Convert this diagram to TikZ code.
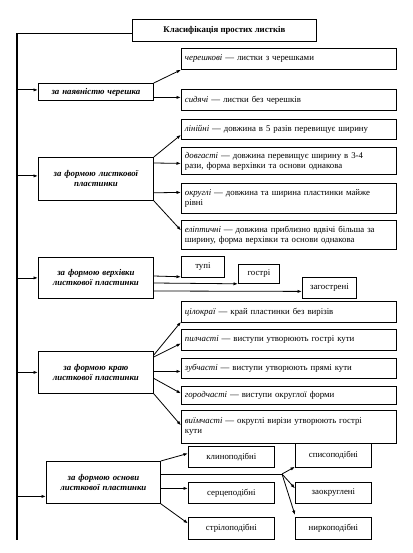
\documentclass[tikz,border=0pt]{standalone}
\usepackage{fontspec}
\setmainfont{Liberation Serif}
\usetikzlibrary{calc,arrows.meta}
\newcommand{\fs}{\fontsize{8.8pt}{10pt}\selectfont}
\tikzset{
  box/.style={draw, line width=0.8pt, anchor=north west, inner xsep=3pt, inner ysep=2pt, font=\fs},
  catbox/.style={box, align=center, font=\fs\bfseries\itshape, minimum width=115pt, text width=107pt, inner xsep=4pt},
  leaf/.style={box, align=left, text width=208pt, inner xsep=3.5pt, anchor=north west},
  small/.style={box, align=center},
  arr/.style={-{Latex[length=4.5pt,width=3.2pt]}, line width=0.8pt},
  mainline/.style={line width=1.4pt}
}
\begin{document}
\begin{tikzpicture}[x=1pt,y=-1pt]
\useasboundingbox (0,0) rectangle (412,553);
% title
\node[box, minimum width=184pt, minimum height=22pt, font=\fs\bfseries] (title) at (132,19) {Класифікація простих листків};
% categories
\node[catbox, minimum height=17pt] (c1) at (38,83) {за наявністю черешка};
\node[catbox, minimum height=43pt] (c2) at (38,157) {за формою листкової\\пластинки};
\node[catbox, minimum height=41pt] (c3) at (38,257) {за формою верхівки\\листкової пластинки};
\node[catbox, minimum height=42pt] (c4) at (38,351) {за формою краю\\листкової пластинки};
\node[catbox, minimum height=42pt, minimum width=114pt, text width=106pt] (c5) at (46,461) {за формою основи\\листкової пластинки};
% leaves group 1
\node[leaf, minimum height=21pt] (cher) at (181,48) {\textit{черешкові} — листки з черешками};
\node[leaf, minimum height=21pt] (syd) at (181,89) {\textit{сидячі} — листки без черешків};
% group 2
\node[leaf, minimum height=20pt] (lin) at (181,119) {\textit{лінійні} — довжина в 5 разів перевищує ширину};
\node[leaf, minimum height=27pt] (dovh) at (181,147) {\textit{довгасті} — довжина перевищує ширину в 3-4\\рази, форма верхівки та основи однакова};
\node[leaf, minimum height=30pt] (okr) at (181,183) {\textit{округлі} — довжина та ширина пластинки майже\\рівні};
\node[leaf, minimum height=29pt] (elip) at (181,220) {\textit{еліптичні} — довжина приблизно вдвічі більша за\\ширину, форма верхівки та основи однакова};
% group 3
\node[small, minimum width=43pt, minimum height=21pt] (tupi) at (181,256) {тупі};
\node[small, minimum width=41pt, minimum height=19pt] (gostri) at (238,264) {гострі};
\node[small, minimum width=54pt, minimum height=21pt] (zag) at (302,277) {загострені};
% group 4
\node[leaf, minimum height=21pt] (cil) at (181,301) {\textit{цілокраї} — край пластинки без вирізів};
\node[leaf, minimum height=21pt] (pyl) at (181,329) {\textit{пилчасті} — виступи утворюють гострі кути};
\node[leaf, minimum height=20pt] (zub) at (181,358) {\textit{зубчасті} — виступи утворюють прямі кути};
\node[leaf, minimum height=18pt] (hor) at (181,386) {\textit{городчасті} — виступи округлої форми};
\node[leaf, minimum height=33pt] (vyi) at (181,410) {\textit{виїмчасті} — округлі вирізи утворюють гострі\\кути};
% group 5
\node[small, minimum width=86pt, minimum height=21pt] (klyn) at (188,446) {клиноподібні};
\node[small, minimum width=86pt, minimum height=21pt] (serc) at (188,482) {серцеподібні};
\node[small, minimum width=86pt, minimum height=22pt] (stril) at (188,517) {стрілоподібні};
\node[small, minimum width=76pt, minimum height=24pt] (spys) at (295,443) {списоподібні};
\node[small, minimum width=76pt, minimum height=21pt] (zaok) at (295,482) {заокруглені};
\node[small, minimum width=76pt, minimum height=22pt] (nyrk) at (295,517) {ниркоподібні};
% main line
\coordinate (bot) at (17,540);
\coordinate (hub) at (282,474);
\draw[mainline] ($(title.west)+(0,3)$) -| (bot);
\coordinate (b1) at ($(c1.west)+(0,-2)$);
\coordinate (b2) at ($(c2.west)+(0,-3)$);
\coordinate (b5) at ($(c5.west)+(0,14)$);
\draw[arr] (b1 -| bot) -- (b1);
\draw[arr] (b2 -| bot) -- (b2);
\draw[arr] (c3.west -| bot) -- (c3.west);
\draw[arr] (c4.west -| bot) -- (c4.west);
\draw[arr] (b5 -| bot) -- (b5);
% group 1 arrows
\draw[arr] (c1.north east) -- (cher.south west);
\draw[arr] ($(c1.east)+(0,5.5)$) -- ($(syd.west)+(0,-2.5)$);
% group 2 arrows
\draw[arr] (c2.north east) -- ($(lin.south west)+(0,-5)$);
\draw[arr] ($(c2.north east)+(0,6)$) -- ($(dovh.west)+(0,2.5)$);
\draw[arr] ($(c2.south east)+(0,-8)$) -- ($(okr.west)+(0,-6)$);
\draw[arr] (c2.south east) -- ($(elip.west)+(0,-4.5)$);
% group 3 arrows
\draw[arr] ($(c3.north east)+(0,19)$) -- ($(tupi.south west)+(0,-1)$);
\draw[arr] ($(c3.north east)+(0,26)$) -- (gostri.south west);
\draw[arr] ($(c3.north east)+(0,34)$) -- ($(zag.west)+(0,3.5)$);
% group 4 arrows
\draw[arr] ($(c4.north east)+(0,4)$) -- ($(cil.south west)+(0,-1)$);
\draw[arr] ($(c4.north east)+(0,6)$) -- ($(pyl.west)+(0,3.5)$);
\draw[arr] ($(c4.east)+(0,-1)$) -- ($(zub.west)+(0,3)$);
\draw[arr] ($(c4.east)+(0,6)$) -- ($(hor.west)+(0,-2)$);
\draw[arr] (c4.south east) -- ($(vyi.west)+(0,-1.5)$);
% group 5 arrows
\draw[arr] (c5.north east) -- ($(klyn.west)+(0,-3.5)$);
\draw[arr] ($(c5.east)+(0,6)$) -- ($(serc.west)+(0,-4.5)$);
\draw[arr] (c5.south east) -- ($(stril.west)+(0,-5)$);
\draw[line width=0.8pt] ($(c5.north east)+(0,13)$) -- (hub);
\draw[arr] (hub) -- ($(spys.south west)+(0,-1)$);
\draw[arr] (hub) -- ($(zaok.west)+(0,-4.5)$);
\draw[arr] (hub) -- ($(nyrk.north west)+(0,-2)$);
\end{tikzpicture}
\end{document}
